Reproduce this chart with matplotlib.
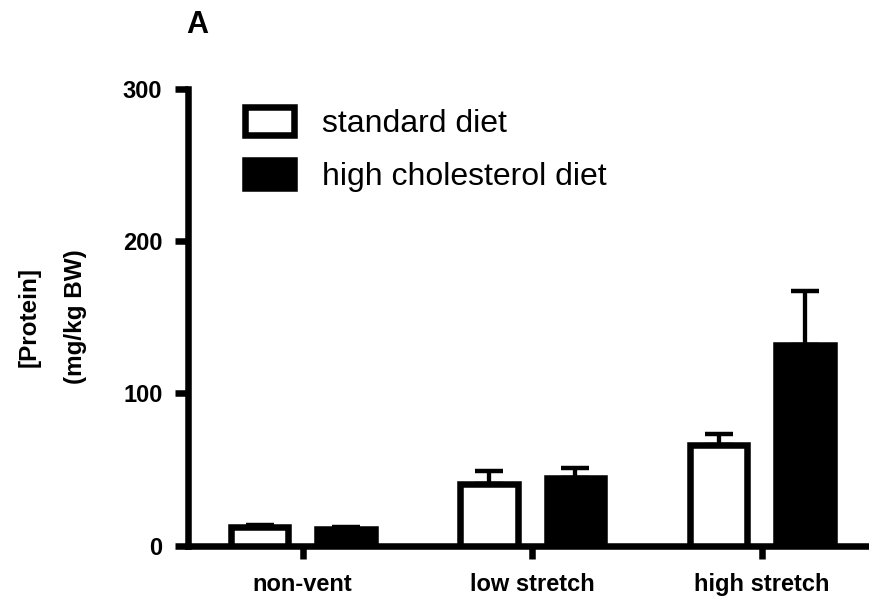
import numpy as np
import matplotlib
matplotlib.use("Agg")
import matplotlib.pyplot as plt

# data
groups = ["non-vent", "low stretch", "high stretch"]
standard_mean = [12.0, 40.2, 66.0]
standard_err = [1.5, 8.6, 7.5]
cholesterol_mean = [11.0, 44.1, 131.6]
cholesterol_err = [1.0, 6.6, 35.8]
series_labels = ["standard diet", "high cholesterol diet"]
y_ticks = [0, 100, 200, 300]

plt.rcParams['font.family'] = ['Liberation Sans', 'DejaVu Sans']

fig = plt.figure(figsize=(8.69, 6.05), dpi=100)
ax = fig.add_axes([0.2163, 0.0983, 0.7923, 0.7554])

x = np.arange(len(groups))
offset = 0.188
width = 0.2505
lw = 4.7

ax.bar(x - offset, standard_mean, width, facecolor="white", edgecolor="black",
       linewidth=lw, label=series_labels[0], zorder=3)
ax.bar(x + offset, cholesterol_mean, width, facecolor="black", edgecolor="black",
       linewidth=lw, label=series_labels[1], zorder=3)

# upper error bars only
for xs, m, e in [(x - offset, standard_mean, standard_err),
                 (x + offset, cholesterol_mean, cholesterol_err)]:
    ax.errorbar(xs, m, yerr=[np.zeros(len(e)), e], fmt="none", ecolor="black",
                elinewidth=3.1, capsize=10.2, capthick=3.2, zorder=2)

ax.set_xlim(-0.5, 2.5)
ax.set_ylim(0, 300)
ax.set_yticks(y_ticks)
ax.set_xticks(x)
ax.set_xticklabels(groups)

for side in ["top", "right"]:
    ax.spines[side].set_visible(False)
for side in ["left", "bottom"]:
    ax.spines[side].set_linewidth(lw)
    ax.spines[side].set_capstyle("projecting")

ax.tick_params(axis="both", width=lw, length=9.5, labelsize=17)
ax.tick_params(axis="y", pad=8.9)
ax.tick_params(axis="x", pad=10.5)
for lbl in ax.get_xticklabels() + ax.get_yticklabels():
    lbl.set_fontweight("bold")

ax.set_ylabel("[Protein]\n(mg/kg BW)", fontsize=17.5, fontweight="bold",
              linespacing=2.25, va="center", ha="center")
ax.yaxis.set_label_coords(-0.197, 0.5)

leg = ax.legend(loc="upper left", bbox_to_anchor=(0.2816, 0.8228),
                bbox_transform=fig.transFigure, frameon=False, fontsize=23,
                borderpad=0, borderaxespad=0, handlelength=1.55,
                handleheight=0.97, handletextpad=0.86, labelspacing=0.65)
for h in leg.legend_handles:
    h.set_linewidth(lw)

fig.text(186 / 869, 1 - 33 / 605, "A", fontsize=22, fontweight="bold",
         ha="left", va="baseline")

fig.savefig("out.png", dpi=100)
